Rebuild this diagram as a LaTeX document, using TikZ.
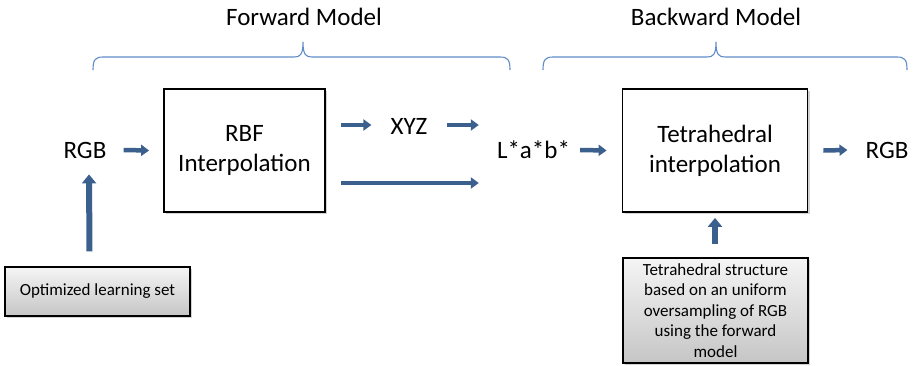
\documentclass[tikz,border=0pt]{standalone}
\usepackage{fontspec}
\setmainfont{Carlito}
\usetikzlibrary{arrows.meta,shadows,calc}
\definecolor{arrblue}{RGB}{60,96,142}
\definecolor{braceblue}{RGB}{95,140,200}
\tikzset{
  big/.style={font=\fontsize{25}{30}\selectfont, inner sep=0pt},
  procbox/.style={draw=black, line width=1.8pt, fill=white, align=center,
    font=\fontsize{25}{30}\selectfont,
    drop shadow={opacity=0.35, shadow xshift=2pt, shadow yshift=-2pt}},
  inbox/.style={draw=black, line width=1.2pt, top color=gray!8, bottom color=gray!45,
    align=center, font=\fontsize{17}{20.5}\selectfont, inner sep=0pt,
    drop shadow={opacity=0.35, shadow xshift=2pt, shadow yshift=-2pt}},
  arr/.style={draw=arrblue, line width=4.5pt, -{Triangle[width=11pt,length=8pt]}},
  varr/.style={draw=arrblue, line width=6pt, -{Triangle[width=14pt,length=9pt]}},
  bracel/.style={draw=braceblue, line width=1.1pt},
}
\begin{document}
\begin{tikzpicture}[x=1pt,y=-1pt]
\useasboundingbox (0,0) rectangle (913,365);
% titles
\node[big] (fwd) at (304,17) {Forward Model};
\node[big] (bwd) at (716,17) {Backward Model};
% braces
\draw[bracel] (93,70) .. controls (93,60) and (95,57) .. (103,57) -- (294,57)
  .. controls (300,57) and (303,55) .. (303,42)
  .. controls (303,55) and (306,57) .. (312,57) -- (500,57)
  .. controls (508,57) and (510,60) .. (510,70);
\draw[bracel] (543,70) .. controls (543,60) and (545,57) .. (553,57) -- (707,57)
  .. controls (713,57) and (716,55) .. (716,42)
  .. controls (716,55) and (719,57) .. (725,57) -- (897,57)
  .. controls (905,57) and (907,60) .. (907,70);
% nodes
\node[big] (rgbin) at (85,150) {RGB};
\node[procbox, minimum width=161pt, minimum height=123pt] (rbf) at (244.5,150.5) {RBF\\Interpolation};
\node[big] (xyz) at (409,126) {XYZ};
\node[big] (lab) at (533.5,150) {L*a*b*};
\node[procbox, minimum width=185pt, minimum height=123pt] (tet) at (715,150.5) {Tetrahedral\\interpolation};
\node[big] (rgbout) at (887,150) {RGB};
\node[inbox, minimum width=185pt, minimum height=49pt] (opt) at (97.5,291.5) {Optimized learning set};
\node[inbox, minimum width=185pt, minimum height=105pt] (tst) at (715.5,310.5) {Tetrahedral structure\\based on an uniform\\oversampling of RGB\\using the forward\\model};
% connectors
\draw[arr] ($(rgbin.east)+(17,0)$) -- ($(rbf.west)+(-14,0)$);
\draw[arr] ($(rbf.east)+(15,-25.5)$) -- ($(xyz.west)+(-19,-1)$);
\draw[arr] ($(xyz.east)+(19,-1)$) -- ($(lab.west)+(-18,-25)$);
\draw[arr] ($(rbf.east)+(15,32.5)$) -- ($(lab.west)+(-18,33)$);
\draw[arr] ($(lab.east)+(10,0)$) -- ($(tet.west)+(-15,0)$);
\draw[arr] ($(tet.east)+(15,0)$) -- ($(rgbout.west)+(-18,0)$);
\draw[varr] ($(opt.north)+(-8,-15)$) -- ($(rgbin.south)+(4,16)$);
\draw[varr] ($(tst.north)+(-0.5,-13)$) -- ($(tet.south)+(0,5)$);
\end{tikzpicture}
\end{document}
